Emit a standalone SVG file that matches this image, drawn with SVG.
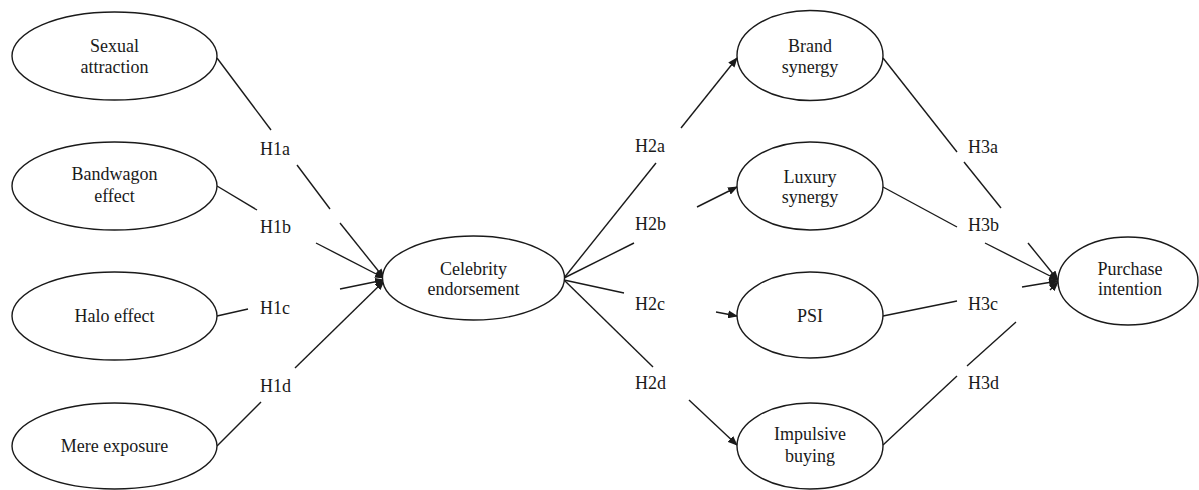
<svg xmlns="http://www.w3.org/2000/svg" width="1199" height="490" viewBox="0 0 1199 490" font-family="'Liberation Serif', 'Times New Roman', serif">
<style>
.n ellipse{fill:#fff;stroke:#1a1a1a;stroke-width:1.4}
text{font-family:'Liberation Serif','Times New Roman',serif;font-size:18px;fill:#1a1a1a}
.n text{text-anchor:middle}
#connectors line{stroke:#1a1a1a;stroke-width:1.4;fill:none}
</style>
<defs>
<marker id="ah" markerUnits="userSpaceOnUse" markerWidth="10" markerHeight="8" refX="9" refY="4" orient="auto">
<path d="M0,0 L10,4 L0,8 Z" fill="#1a1a1a"/>
</marker>
</defs>
<rect width="1199" height="490" fill="#fff"/>
<g id="connectors">
<line x1="217" y1="58" x2="271" y2="130"/>
<line x1="297" y1="165" x2="330" y2="209"/>
<line x1="340" y1="223" x2="384" y2="278" marker-end="url(#ah)"/>
<line x1="217" y1="186" x2="257" y2="210"/>
<line x1="316" y1="243" x2="384" y2="278" marker-end="url(#ah)"/>
<line x1="217" y1="316" x2="248" y2="309"/>
<line x1="340" y1="289" x2="384" y2="280" marker-end="url(#ah)"/>
<line x1="217" y1="446" x2="261" y2="402"/>
<line x1="295" y1="368" x2="384" y2="281" marker-end="url(#ah)"/>
<line x1="564" y1="278" x2="656" y2="163"/>
<line x1="681" y1="128" x2="737" y2="58" marker-end="url(#ah)"/>
<line x1="564" y1="278" x2="634" y2="243"/>
<line x1="697" y1="207" x2="737" y2="187" marker-end="url(#ah)"/>
<line x1="564" y1="280" x2="624" y2="293"/>
<line x1="716" y1="312" x2="737" y2="316" marker-end="url(#ah)"/>
<line x1="564" y1="280" x2="653" y2="367"/>
<line x1="689" y1="400" x2="737" y2="445" marker-end="url(#ah)"/>
<line x1="883" y1="58" x2="957" y2="152"/>
<line x1="964" y1="162" x2="1001" y2="208"/>
<line x1="1028" y1="243" x2="1058" y2="280" marker-end="url(#ah)"/>
<line x1="883" y1="187" x2="957" y2="227"/>
<line x1="985" y1="243" x2="1058" y2="280" marker-end="url(#ah)"/>
<line x1="883" y1="316" x2="957" y2="301"/>
<line x1="1022" y1="287" x2="1058" y2="281" marker-end="url(#ah)"/>
<line x1="883" y1="445" x2="957" y2="376"/>
<line x1="967" y1="366" x2="1016" y2="322"/>
<line x1="1050" y1="290" x2="1058" y2="282" marker-end="url(#ah)"/>
</g>
<g id="labels">
<text x="260" y="155">H1a</text>
<text x="260" y="233">H1b</text>
<text x="260" y="314">H1c</text>
<text x="260" y="392">H1d</text>
<text x="635" y="152">H2a</text>
<text x="635" y="230">H2b</text>
<text x="635" y="310">H2c</text>
<text x="635" y="389">H2d</text>
<text x="968" y="153">H3a</text>
<text x="968" y="231">H3b</text>
<text x="968" y="310">H3c</text>
<text x="968" y="389">H3d</text>
</g>
<g id="sexual" class="n"><ellipse cx="114.5" cy="56" rx="102.5" ry="44"/><text x="114.5" y="52">Sexual</text><text x="114.5" y="73">attraction</text></g>
<g id="bandwagon" class="n"><ellipse cx="114.5" cy="186" rx="102.5" ry="44"/><text x="114.5" y="180">Bandwagon</text><text x="114.5" y="202">effect</text></g>
<g id="halo" class="n"><ellipse cx="114.5" cy="316" rx="102.5" ry="44"/><text x="114.5" y="322">Halo effect</text></g>
<g id="mere" class="n"><ellipse cx="114.5" cy="446" rx="102.5" ry="43"/><text x="114.5" y="452">Mere exposure</text></g>
<g id="celebrity" class="n"><ellipse cx="473.5" cy="278" rx="91" ry="42"/><text x="473.5" y="275">Celebrity</text><text x="473.5" y="295">endorsement</text></g>
<g id="brand" class="n"><ellipse cx="810" cy="55.5" rx="73" ry="45"/><text x="810" y="52">Brand</text><text x="810" y="73">synergy</text></g>
<g id="luxury" class="n"><ellipse cx="810" cy="186" rx="73" ry="44"/><text x="810" y="183">Luxury</text><text x="810" y="203">synergy</text></g>
<g id="psi" class="n"><ellipse cx="810" cy="315" rx="73" ry="43"/><text x="810" y="322">PSI</text></g>
<g id="impulsive" class="n"><ellipse cx="810" cy="446" rx="73" ry="43"/><text x="810" y="440">Impulsive</text><text x="810" y="462">buying</text></g>
<g id="purchase" class="n"><ellipse cx="1128" cy="281" rx="70" ry="44"/><text x="1130" y="275">Purchase</text><text x="1130" y="295">intention</text></g>
</svg>
